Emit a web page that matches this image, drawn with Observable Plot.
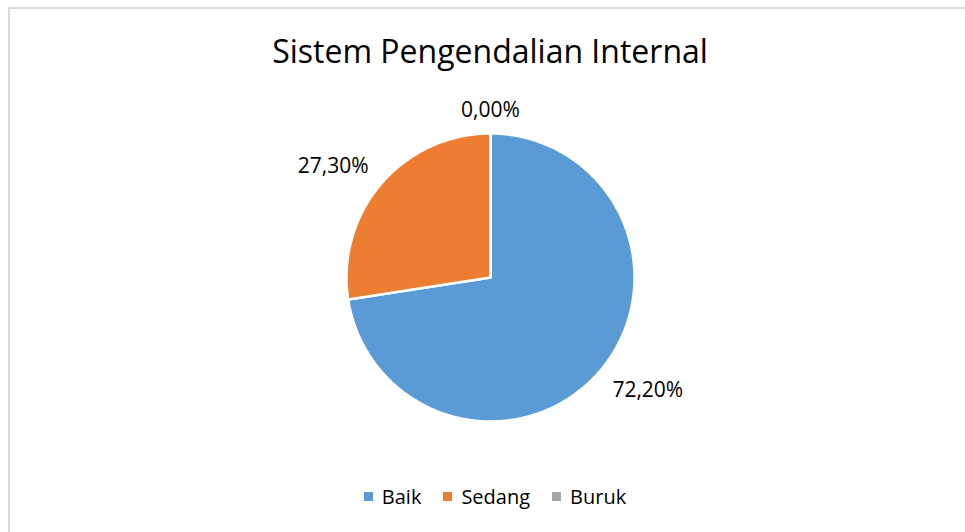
<!DOCTYPE html>
<html>
<head>
<meta charset="utf-8">
<script src="https://cdn.jsdelivr.net/npm/d3@7"></script>
<script src="https://cdn.jsdelivr.net/npm/@observablehq/plot@0.6"></script>
<style>
  html, body { margin: 0; padding: 0; background: #fff; overflow: hidden; }
  #wrap { position: relative; width: 965px; height: 532px; font-family: "Open Sans", sans-serif; }
  #frame { position: absolute; left: 8px; top: 7px; width: 1000px; height: 600px; border: 2px solid #d9d9d9; box-sizing: border-box; }
  #title { position: absolute; left: 0; width: 980px; top: 31px; line-height: 40px; text-align: center; font-size: 32px; color: #000; }
  #chart { position: absolute; left: 0; top: 0; }
  #legend { position: absolute; left: 0; width: 990px; top: 485px; line-height: 24px; text-align: center; font-size: 20px; color: #000; white-space: nowrap; }
  #legend span.item { margin: 0 11px; }
  #legend span.sw { display: inline-block; width: 9px; height: 9px; margin-right: 9px; vertical-align: 3px; }
</style>
</head>
<body>
<div id="wrap">
  <div id="frame"></div>
  <div id="title">Sistem Pengendalian Internal</div>
  <div id="chart"></div>
  <div id="legend"></div>
</div>
<script>
const categories = ["Baik", "Sedang", "Buruk"];
const values = [72.2, 27.3, 0.0];
const labels = ["72,20%", "27,30%", "0,00%"];
const colors = ["#5b9bd5", "#ed7d31", "#a5a5a5"];

const data = categories.map((name, i) => ({name, value: values[i], label: labels[i]}));
const arcs = d3.pie().sort(null).value(d => d.value).startAngle(0).endAngle(2 * Math.PI)(data);

// polygon points for each slice in unit coordinates
const pts = [];
for (const a of arcs) {
  const n = Math.max(2, Math.ceil((a.endAngle - a.startAngle) / 0.01));
  pts.push({name: a.data.name, x: 0, y: 0});
  for (let k = 0; k <= n; k++) {
    const t = a.startAngle + (a.endAngle - a.startAngle) * k / n;
    pts.push({name: a.data.name, x: Math.sin(t), y: Math.cos(t)});
  }
  pts.push({name: a.data.name, x: 0, y: 0});
}

const R = 1.115; // label anchor radius (relative)
const lab = arcs.map(a => {
  const m = (a.startAngle + a.endAngle) / 2;
  const s = Math.sin(m), c = Math.cos(m);
  return {label: a.data.label, x: R * s, y: R * c,
    ta: s > 0.1 ? "start" : s < -0.1 ? "end" : "middle",
    la: c > 0 ? "bottom" : "top"};
});

const textMarks = [];
for (const ta of ["start", "middle", "end"]) for (const la of ["top", "bottom"]) {
  textMarks.push(Plot.text(lab.filter(d => d.ta === ta && d.la === la), {
    x: "x", y: "y", text: "label", textAnchor: ta, lineAnchor: la,
    fontSize: 21, fill: "#000"
  }));
}

const plot = Plot.plot({
  width: 965, height: 532,
  margin: 0,
  style: {fontFamily: "'Open Sans', sans-serif", background: "transparent", overflow: "visible"},
  x: {domain: [-1, 1], range: [346, 634], axis: null},
  y: {domain: [-1, 1], range: [421, 133], axis: null},
  color: {domain: categories, range: colors},
  marks: [
    Plot.line(pts, {x: "x", y: "y", z: "name", fill: "name", stroke: "#fff", strokeWidth: 2.5, strokeLinejoin: "round", curve: "linear"}),
    ...textMarks
  ]
});
document.getElementById("chart").appendChild(plot);

const legend = document.getElementById("legend");
categories.forEach((c, i) => {
  const it = document.createElement("span");
  it.className = "item";
  const sw = document.createElement("span");
  sw.className = "sw";
  sw.style.background = colors[i];
  it.appendChild(sw);
  it.appendChild(document.createTextNode(c));
  legend.appendChild(it);
});
</script>
</body>
</html>
